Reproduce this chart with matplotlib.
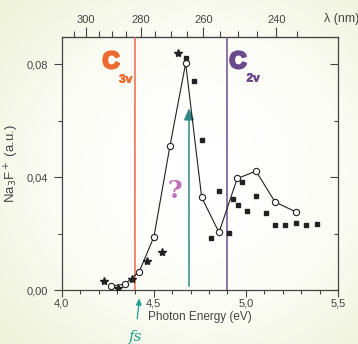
import matplotlib.pyplot as plt
import matplotlib.patheffects as pe
import numpy as np

plt.rcParams['font.family'] = ['Liberation Sans', 'DejaVu Sans']

# open circles, joined by a line
circ_e = [4.268, 4.344, 4.421, 4.501, 4.588, 4.673, 4.760, 4.854, 4.953, 5.055, 5.158, 5.270]
circ_y = [0.0015, 0.0022, 0.0066, 0.019, 0.0512, 0.0804, 0.0329, 0.0205, 0.0396, 0.0422, 0.0313, 0.0278]

# stars
star_e = [4.231, 4.304, 4.383, 4.461, 4.546, 4.630]
star_y = [0.0033, 0.0007, 0.0040, 0.0104, 0.0136, 0.0841]

# filled squares
sq_e = [4.675, 4.720, 4.763, 4.809, 4.856, 4.906, 4.928, 4.955, 4.980, 5.004,
        5.055, 5.107, 5.160, 5.214, 5.270, 5.326, 5.386]
sq_y = [0.0823, 0.0742, 0.0531, 0.0186, 0.0352, 0.0204, 0.0322, 0.0301, 0.0385, 0.0281,
        0.0334, 0.0275, 0.0232, 0.0230, 0.0237, 0.0232, 0.0234]

e_c3v = 4.40
e_fs = 4.691
e_c2v = 4.90

lam_ticks = [300, 280, 260, 240]
lam_minor = np.arange(235, 310, 5)

fig = plt.figure(figsize=(3.58, 3.44), dpi=100)

# pale background gradient
bg = fig.add_axes([0, 0, 1, 1], zorder=-10)
yy, xx = np.mgrid[0:1:200j, 0:1:200j]
r = np.sqrt((xx - 0.55) ** 2 + (yy - 0.5) ** 2)
bg.imshow(r, cmap=plt.matplotlib.colors.LinearSegmentedColormap.from_list(
    'g', ['#ffffff', '#fbfcf4', '#eef2d8']), extent=[0, 1, 0, 1], aspect='auto', vmin=0.1, vmax=0.75)
bg.axis('off')

ax = fig.add_axes([0.1723, 0.1561, 0.7718, 0.7355])
ax.patch.set_alpha(0)

ax.plot(circ_e, circ_y, '-o', color='#222222', lw=0.8, mfc='white', mec='#222222', ms=4.5, mew=0.8, zorder=5)
ax.plot(star_e, star_y, '*', color='#222222', ms=6, zorder=5)
ax.plot(sq_e, sq_y, 's', color='#222222', ms=3.3, zorder=5)

ax.axvline(e_c3v, color='#ee6a48', lw=1.1, zorder=3)
ax.axvline(e_c2v, color='#6c4f8c', lw=1.1, zorder=3)
ax.annotate('', xy=(e_fs, 0.0655), xytext=(e_fs, 0.0005),
            arrowprops=dict(arrowstyle='-|>,head_length=0.7,head_width=0.3', color='#2f8888', lw=1.1))

orange = '#ee6a30'
purple = '#6a4a8a'
ax.text(4.268, 0.081, 'C', color=orange, fontsize=17, fontweight='bold', ha='center', va='center',
        path_effects=[pe.withStroke(linewidth=1.8, foreground=orange)])
ax.text(4.347, 0.0746, '3v', color=orange, fontsize=8.5, fontweight='bold', ha='center', va='center',
        path_effects=[pe.withStroke(linewidth=0.5, foreground=orange)])
ax.text(4.957, 0.081, 'C', color=purple, fontsize=17, fontweight='bold', ha='center', va='center',
        path_effects=[pe.withStroke(linewidth=1.8, foreground=purple)])
ax.text(5.039, 0.075, '2v', color=purple, fontsize=8.5, fontweight='bold', ha='center', va='center',
        path_effects=[pe.withStroke(linewidth=0.5, foreground=purple)])
ax.text(4.615, 0.035, '?', color='#c070b8', fontsize=18, fontweight='bold', family='DejaVu Serif', ha='center', va='center')

ax.annotate('fs', xy=(4.422, -0.0028), xytext=(4.40, -0.0165), annotation_clip=False,
            color='#20a090', fontsize=11, style='italic', family='DejaVu Serif', ha='center', va='center',
            arrowprops=dict(arrowstyle='-|>,head_length=0.35,head_width=0.15', color='#20a090', lw=0.9,
                            shrinkA=6, shrinkB=0))

ax.set_xlim(4.0, 5.5)
ax.set_ylim(0, 0.0896)
ax.set_xticks([4.0, 4.5, 5.0, 5.5])
ax.set_xticklabels(['4,0', '4,5', '5,0', '5,5'])
ax.set_xticks(np.arange(4.0, 5.5, 0.1), minor=True)
ax.set_yticks([0.0, 0.04, 0.08])
ax.set_yticklabels(['0,00', '0,04', '0,08'])
ax.set_yticks([0.02, 0.06], minor=True)
ax.tick_params(axis='both', which='major', labelsize=8, colors='#444444', length=5, width=0.8)
ax.tick_params(axis='both', which='minor', colors='#444444', length=3, width=0.8)
ax.tick_params(axis='y', which='major', length=6)
ax.tick_params(axis='y', right=True, which='both')
ax.tick_params(axis='x', pad=1)
ax.yaxis.set_tick_params(which='both', direction='out')
for t in ax.yaxis.get_ticklines(minor=False)[1::2] + ax.yaxis.get_ticklines(minor=True)[1::2]:
    t.set_marker(0)  # right-side ticks point inward
for s in ax.spines.values():
    s.set_color('#444444')
    s.set_linewidth(0.9)

ax.set_xlabel('Photon Energy (eV)', fontsize=8.5, color='#444444', labelpad=2)
ax.set_ylabel('Na$_3$F$^+$ (a.u.)', fontsize=9.5, color='#444444', labelpad=4)

top = ax.secondary_xaxis('top', functions=(lambda e: 1239.84 / e, lambda l: 1239.84 / l))
top.set_xticks(lam_ticks)
top.set_xticks(lam_minor, minor=True)
top.tick_params(which='major', labelsize=8, colors='#444444', length=7, width=0.8, pad=2)
top.tick_params(which='minor', colors='#444444', length=4, width=0.8)
top.spines['top'].set_color('#444444')
fig.text(0.905, 0.945, 'λ (nm)', fontsize=9, color='#444444', ha='left', va='center')

fig.savefig('out.png', dpi=100)
